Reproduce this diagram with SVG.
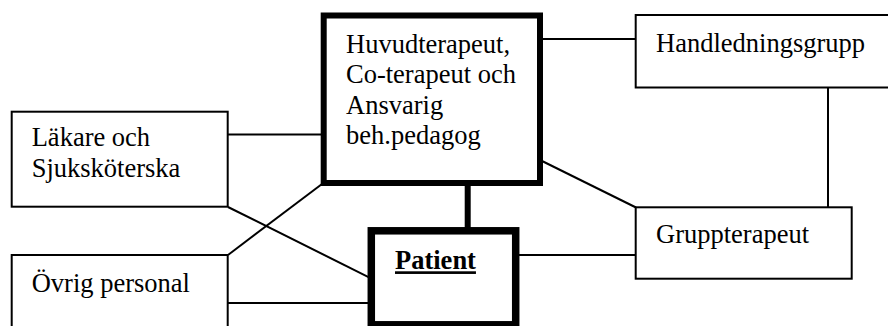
<svg xmlns="http://www.w3.org/2000/svg" width="888" height="326" viewBox="0 0 888 326">
<style>
.box{fill:#fff;stroke:#000;stroke-width:2}
.thick{fill:#fff;stroke:#000;stroke-width:6}
.thicker{fill:#fff;stroke:#000;stroke-width:7.5}
.c{stroke:#000;stroke-width:2;fill:none}
text{font-family:"Liberation Serif","Times New Roman",serif;font-size:26.5px;fill:#000}
</style>
<rect width="888" height="326" fill="#fff"/>
<g id="connectors">
<line class="c" x1="228" y1="134.5" x2="323" y2="134.5"/>
<line class="c" x1="228" y1="207" x2="370" y2="277.8"/>
<line class="c" x1="228" y1="255" x2="322" y2="184"/>
<line class="c" x1="228" y1="303" x2="368" y2="303"/>
<line class="c" x1="540" y1="39" x2="636" y2="39"/>
<line class="c" x1="540" y1="160" x2="636" y2="207.5"/>
<line class="c" x1="828" y1="87.5" x2="828" y2="207.5"/>
<line class="c" x1="516" y1="255" x2="636" y2="255"/>
<line stroke="#000" stroke-width="6" x1="467.7" y1="183" x2="467.7" y2="231"/>
</g>
<g id="huvud">
<rect class="thick" x="323.7" y="15.5" width="216.3" height="167.5"/>
<text x="346" y="52.5">Huvudterapeut,</text>
<text x="346" y="83">Co-terapeut och</text>
<text x="346" y="113.5">Ansvarig</text>
<text x="346" y="144">beh.pedagog</text>
</g>
<g id="lakare">
<rect class="box" x="11.7" y="111.7" width="216" height="95"/>
<text x="31.7" y="145.7">Läkare och</text>
<text x="31.7" y="177.3">Sjuksköterska</text>
</g>
<g id="ovrig">
<rect class="box" x="11.7" y="255" width="216" height="90"/>
<text x="31.7" y="291.7">Övrig personal</text>
</g>
<g id="patient">
<rect class="thicker" x="371.3" y="230.8" width="144.4" height="94"/>
<text x="395" y="269.3" font-weight="bold" text-decoration="underline">Patient</text>
</g>
<g id="handledning">
<rect class="box" x="635.7" y="15" width="270" height="72.5"/>
<text x="656" y="51.7">Handledningsgrupp</text>
</g>
<g id="grupp">
<rect class="box" x="635.7" y="207.3" width="216" height="71.4"/>
<text x="656" y="242.5">Gruppterapeut</text>
</g>
</svg>
